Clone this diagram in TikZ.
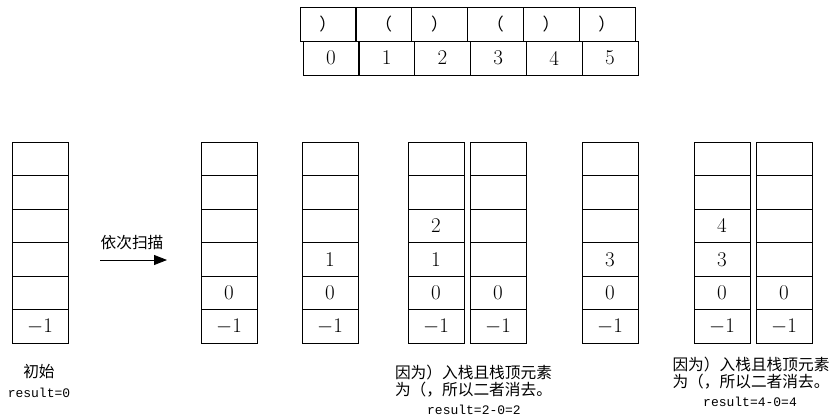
\documentclass[tikz,border=0pt]{standalone}
\usepackage{fontspec}
\usepackage{tikz}
\usetikzlibrary{arrows.meta}
\newfontfamily\cjk{Noto Sans CJK SC}
\newfontfamily\resfont{Liberation Mono}
\tikzset{
  cell/.style={draw, line width=0.8pt, minimum width=56pt, minimum height=33.5pt,
    inner sep=0pt, outer sep=0pt, font=\fontsize{21}{21}\selectfont},
  note/.style={align=left, inner sep=0pt, font=\cjk\fontsize{15.7}{16.5}\selectfont},
  res/.style={inner sep=0pt, font=\resfont\fontsize{13}{13}\selectfont}
}
\begin{document}
\begin{tikzpicture}[x=1pt,y=-1pt]
\useasboundingbox (0,0) rectangle (838,420);

% the brackets and their index
\foreach \c [count=\i] in {）,（,）,（,）,）}
  \node [cell, minimum height=34pt, font=\cjk\fontsize{17}{17}\selectfont] (p\i) at ({300+55.8*\i-27.9},24) {\c};
\foreach \i in {0,...,5}
  \node [cell, minimum height=34pt] (n\i) at ({303+55.8*\i+27.9},58) {\i};

% the stacks, filled from the bottom
\foreach \s/\x/\vals in {a/12/{$-1$}, b/201/{$-1$,0}, c/302/{$-1$,0,1}, d/408/{$-1$,0,1,2},
    e/470/{$-1$,0}, f/582/{$-1$,0,3}, g/694/{$-1$,0,3,4}, h/756/{$-1$,0}} {
  \foreach \i in {1,...,6}
    \node [cell] (\s\i) at ({\x+28},{359.75-33.5*\i}) {};
  \foreach \v [count=\i] in \vals
    \node [inner sep=0pt, font=\fontsize{21}{21}\selectfont] (\s\i v) at (\s\i) {\v};
}

% scan arrow
\coordinate (scanL) at (100,260);
\coordinate (scanR) at (167,260);
\draw [-{Triangle[length=13pt,width=10pt]}, line width=0.8pt] (scanL) -- (scanR);
\node [note] (scan) at (132,243) {依次扫描};

% notes under the stacks
\node [note] (t0) at (39,372) {初始};
\node [res] (r0) at (39,393) {result=0};
\node [note] (t1) at (473.5,381) {因为）入栈且栈顶元素\\为（，所以二者消去。};
\node [res] (r1) at (474,410) {result=2-0=2};
\node [note] (t2) at (751,373) {因为）入栈且栈顶元素\\为（，所以二者消去。};
\node [res] (r2) at (750,402) {result=4-0=4};
\end{tikzpicture}
\end{document}
